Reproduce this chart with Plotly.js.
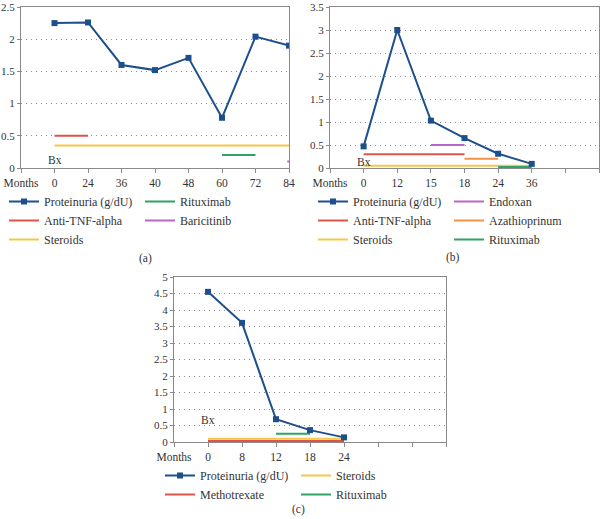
<!DOCTYPE html>
<html><head><meta charset="utf-8">
<script src="https://cdn.plot.ly/plotly-3.0.1.min.js"></script>
<style>html,body{margin:0;padding:0;background:#fff}#chart{width:601px;height:519px}</style>
</head><body><div id="chart"></div>
<script>
// ---------- data ----------
const seriesName = 'Proteinuria (g/dU)';
const axisLabel = 'Months';

// Panel (a)
const monthsA = ['0', '24', '36', '40', '48', '60', '72', '84'];
const proteinuriaA = [2.25, 2.26, 1.6, 1.52, 1.71, 0.78, 2.04, 1.9];
const treatNamesA = ['Anti-TNF-alpha', 'Steroids', 'Rituximab', 'Baricitinib'];
const treatLevelA = [0.5, 0.35, 0.2, 0.1];
const treatStartA = [0, 0, 5, 6.95];   // category index
const treatEndA = [1, 7, 6, 7];
const bxA = [0, 0.12];

// Panel (b)
const monthsB = ['0', '12', '15', '18', '24', '36', '', ''];
const proteinuriaB = [0.47, 3.0, 1.03, 0.65, 0.31, 0.09];
const treatNamesB = ['Anti-TNF-alpha', 'Steroids', 'Endoxan', 'Azathioprinum', 'Rituximab'];
const treatLevelB = [0.3, 0.05, 0.5, 0.2, 0.02];
const treatStartB = [0, 0, 2, 3, 4];
const treatEndB = [3, 5, 3, 4, 5];
const bxB = [0, 0.135];

// Panel (c)
const monthsC = ['0', '8', '12', '18', '24', '', '', ''];
const proteinuriaC = [4.55, 3.61, 0.69, 0.36, 0.14];
const treatNamesC = ['Methotrexate', 'Steroids', 'Rituximab'];
const treatLevelC = [0.03, 0.1, 0.25];
const treatStartC = [0, 0, 2];
const treatEndC = [4, 4, 3];
const bxC = [0, 0.66];

// ---------- styling ----------
const W = 601, H = 519;
const FONT = 'Liberation Serif';
const TXT = '#333333';
const colors = {
  'Proteinuria (g/dU)': '#1d4f8c',
  'Anti-TNF-alpha': '#e0534a',
  'Methotrexate': '#e0534a',
  'Steroids': '#f6c646',
  'Rituximab': '#2ea365',
  'Baricitinib': '#b867c6',
  'Endoxan': '#b867c6',
  'Azathioprinum': '#f39245'
};
const px = v => v / W;
const py = v => 1 - v / H;

const panels = [
  {months: monthsA, prot: proteinuriaA, names: treatNamesA, level: treatLevelA, s: treatStartA, e: treatEndA, bx: bxA,
   ymax: 2.5, x0: 21, x1: 289, y0: 7, y1: 168, cols: [1, 1, 2, 2], leg: ['legend', 'legend2'],
   legX: [44, 180], legY: 202, label: '(a)', labX: 145, labY: 258},
  {months: monthsB, prot: proteinuriaB, names: treatNamesB, level: treatLevelB, s: treatStartB, e: treatEndB, bx: bxB,
   ymax: 3.5, x0: 330, x1: 599, y0: 7, y1: 168, cols: [1, 1, 2, 2, 2], leg: ['legend3', 'legend4'],
   legX: [353, 489], legY: 202, label: '(b)', labX: 453, labY: 257},
  {months: monthsC, prot: proteinuriaC, names: treatNamesC, level: treatLevelC, s: treatStartC, e: treatEndC, bx: bxC,
   ymax: 5, x0: 174, x1: 446, y0: 277, y1: 442, cols: [1, 2, 2], leg: ['legend5', 'legend6'],
   legX: [200, 336], legY: 476, label: '(c)', labX: 298, labY: 509}
];

const traces = [];
const layout = {
  width: W, height: H, margin: {l: 0, r: 0, t: 0, b: 0},
  paper_bgcolor: '#fff', plot_bgcolor: '#fff',
  font: {family: FONT, size: 11, color: TXT},
  showlegend: true, annotations: []
};

panels.forEach((p, i) => {
  const n = i === 0 ? '' : String(i + 1);
  const xa = 'x' + n, ya = 'y' + n;
  const idx = p.prot.map((_, k) => k);
  p.names.forEach((name, k) => {
    traces.push({
      type: 'scatter', mode: 'lines', name: name,
      x: [p.s[k], p.e[k]], y: [p.level[k], p.level[k]],
      xaxis: xa, yaxis: ya,
      line: {color: colors[name], width: 2},
      legend: p.leg[p.cols[k] - 1], legendrank: 10 + k,
      hoverinfo: 'skip'
    });
  });
  traces.push({
    type: 'scatter', mode: 'lines+markers', name: seriesName,
    x: idx, y: p.prot, xaxis: xa, yaxis: ya,
    line: {color: colors[seriesName], width: 2},
    marker: {symbol: 'square', size: 6, color: colors[seriesName]},
    legend: p.leg[0], legendrank: 1
  });

  const tickvals = [-1].concat(p.months.map((_, k) => k));
  const ticktext = [axisLabel].concat(p.months);
  layout['xaxis' + n] = {
    domain: [px(p.x0), px(p.x1)], anchor: ya,
    range: [-1, 7], tickmode: 'array', tickvals: tickvals, ticktext: ticktext,
    showgrid: false, zeroline: false, showline: true, mirror: true,
    linecolor: '#8a8a8a', linewidth: 1, ticks: 'outside', ticklen: 4, tickcolor: '#8a8a8a',
    tickfont: {family: FONT, size: 11.5, color: TXT}, ticklabeloverflow: 'allow', fixedrange: true
  };
  layout['yaxis' + n] = {
    domain: [py(p.y1), py(p.y0)], anchor: xa,
    range: [0, p.ymax], dtick: 0.5, tick0: 0,
    showgrid: true, gridcolor: '#8c8c8c', griddash: '1px,4px', gridwidth: 1,
    zeroline: false, showline: true, mirror: true,
    linecolor: '#8a8a8a', linewidth: 1, ticks: 'outside', ticklen: 3, tickcolor: '#8a8a8a',
    tickfont: {family: FONT, size: 11, color: TXT}, ticklabeloverflow: 'allow', fixedrange: true
  };
  p.leg.forEach((lg, c) => {
    layout[lg] = {
      x: px(p.legX[c] - 40), xanchor: 'left',
      y: py(p.legY - 15), yanchor: 'top',
      orientation: 'v', bgcolor: 'rgba(0,0,0,0)', borderwidth: 0,
      font: {family: FONT, size: 12, color: TXT}, traceorder: 'normal'
    };
  });
  layout.annotations.push({
    xref: xa, yref: ya, x: p.bx[0], y: p.bx[1], text: 'Bx', showarrow: false,
    font: {family: FONT, size: 11.5, color: TXT}, xanchor: 'center', yanchor: 'middle'
  });
  layout.annotations.push({
    xref: 'paper', yref: 'paper', x: px(p.labX), y: py(p.labY), text: p.label, showarrow: false,
    font: {family: FONT, size: 11.5, color: TXT}, xanchor: 'center', yanchor: 'middle'
  });
});

Plotly.newPlot('chart', traces, layout, {displayModeBar: false, staticPlot: true});
</script>
</body></html>
